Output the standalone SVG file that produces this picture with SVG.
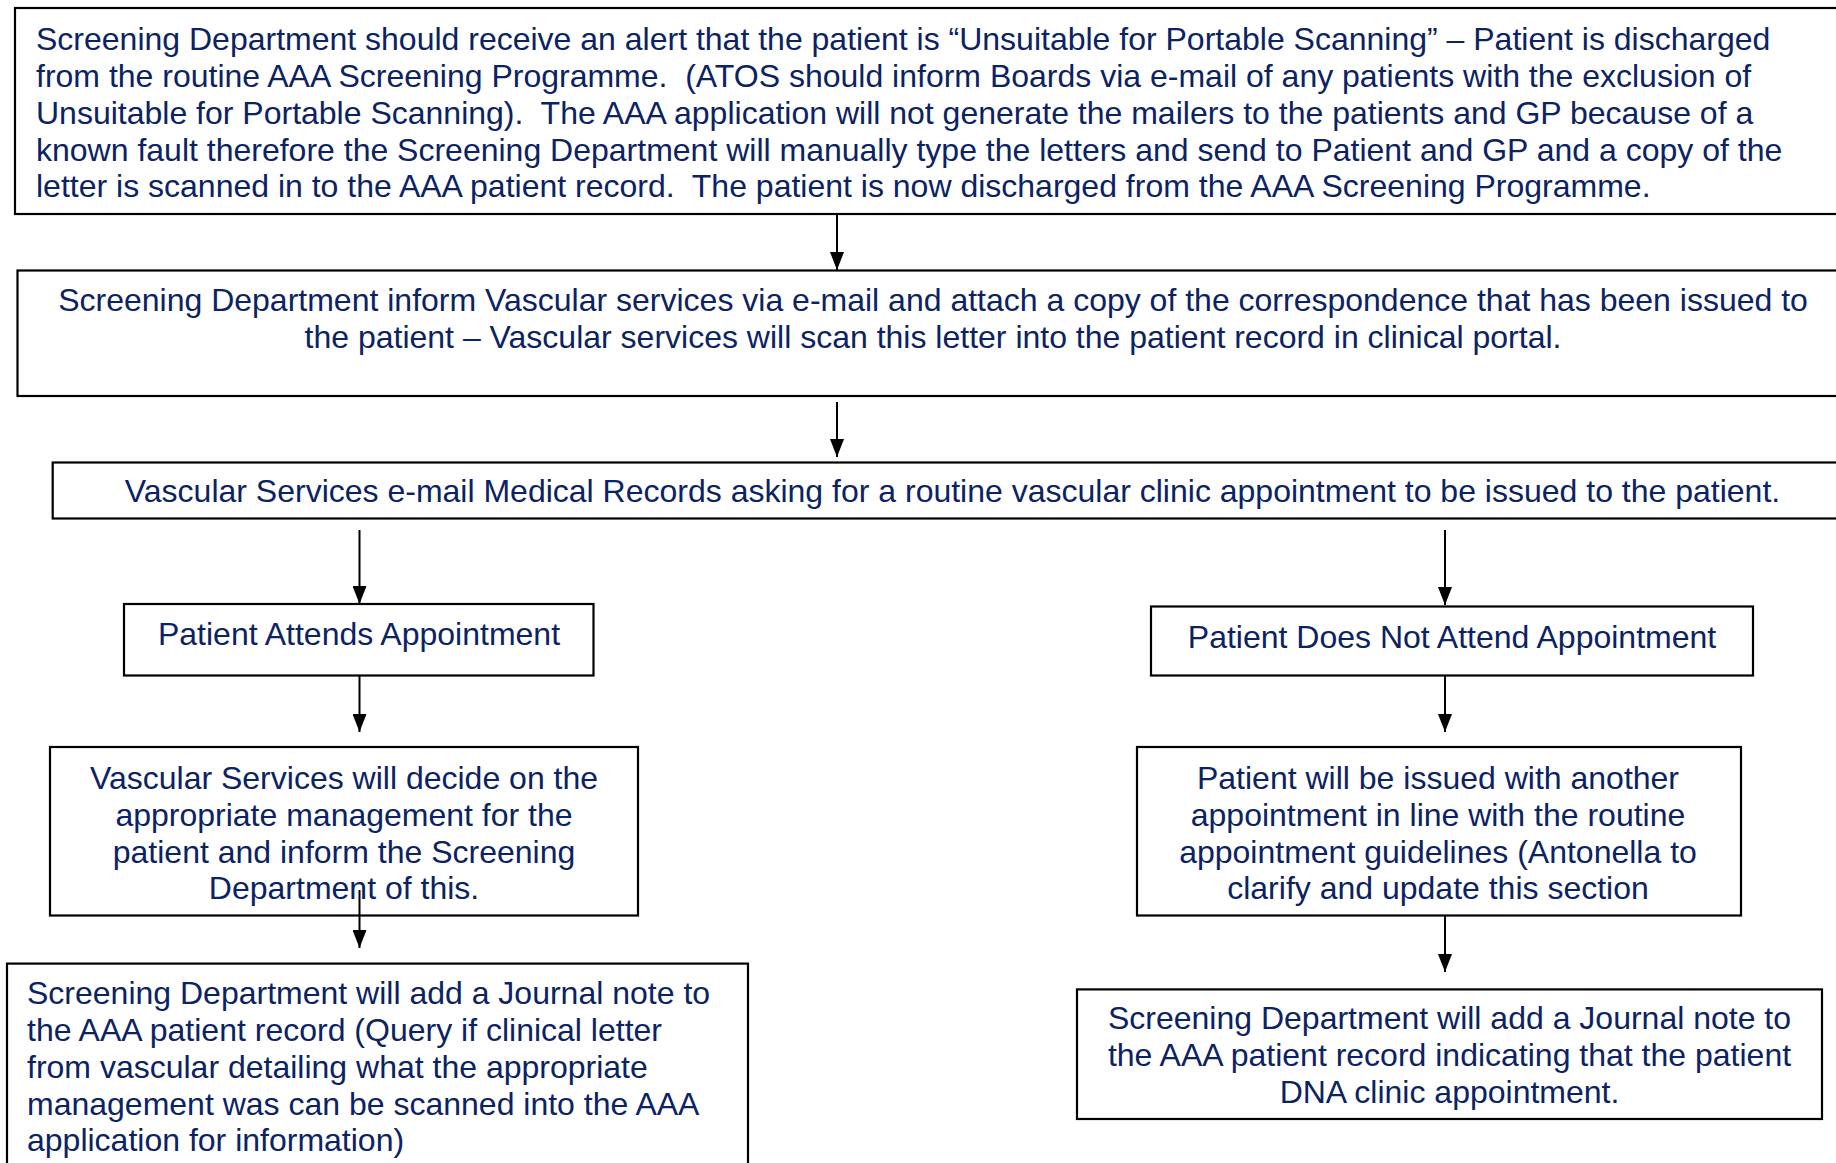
<svg xmlns="http://www.w3.org/2000/svg" width="1836" height="1163" viewBox="0 0 1836 1163">
  <style>
    .box { fill: #ffffff; stroke: #000000; stroke-width: 2.2; }
    .t { font-family: "Liberation Sans", Arial, sans-serif; font-size: 32px; fill: #0b2263; white-space: pre; }
    .c { text-anchor: middle; }
    .edge { stroke: #000000; stroke-width: 2; fill: none; marker-end: url(#arrow); }
  </style>
  <defs>
    <!-- filled triangular head, drawn along +x so orient="auto" turns it with the line -->
    <marker id="arrow" markerUnits="userSpaceOnUse" markerWidth="18" markerHeight="14" viewBox="0 0 18 14" refX="18" refY="7" orient="auto">
      <path d="M0,0 L18,7 L0,14 Z" fill="#000000"/>
    </marker>
  </defs>
  <rect width="1836" height="1163" fill="#ffffff"/>

  <g id="connectors">
    <line class="edge" x1="837" y1="214" x2="837" y2="270"/>
    <line class="edge" x1="837" y1="402" x2="837" y2="457"/>
    <line class="edge" x1="359.5" y1="530" x2="359.5" y2="604"/>
    <line class="edge" x1="1445" y1="530" x2="1445" y2="605"/>
    <line class="edge" x1="359.5" y1="676" x2="359.5" y2="732"/>
    <line class="edge" x1="1445" y1="676" x2="1445" y2="732"/>
    <line class="edge" x1="1445" y1="916" x2="1445" y2="972"/>
  </g>

  <g id="node-alert">
    <rect class="box" x="15" y="8" width="1840" height="206"/>
    <text class="t" xml:space="preserve" x="36" y="50">Screening Department should receive an alert that the patient is “Unsuitable for Portable Scanning” – Patient is discharged</text>
    <text class="t" xml:space="preserve" x="36" y="87">from the routine AAA Screening Programme.  (ATOS should inform Boards via e-mail of any patients with the exclusion of</text>
    <text class="t" xml:space="preserve" x="36" y="124">Unsuitable for Portable Scanning).  The AAA application will not generate the mailers to the patients and GP because of a</text>
    <text class="t" xml:space="preserve" x="36" y="161">known fault therefore the Screening Department will manually type the letters and send to Patient and GP and a copy of the</text>
    <text class="t" xml:space="preserve" x="36" y="197">letter is scanned in to the AAA patient record.  The patient is now discharged from the AAA Screening Programme.</text>
  </g>

  <g id="node-inform-vascular">
    <rect class="box" x="17.5" y="270.5" width="1832" height="125.5"/>
    <text class="t c" x="933" y="311">Screening Department inform Vascular services via e-mail and attach a copy of the correspondence that has been issued to</text>
    <text class="t c" x="933" y="348">the patient – Vascular services will scan this letter into the patient record in clinical portal.</text>
  </g>

  <g id="node-medical-records">
    <rect class="box" x="52.7" y="462.5" width="1800" height="56"/>
    <text class="t c" x="952.5" y="502">Vascular Services e-mail Medical Records asking for a routine vascular clinic appointment to be issued to the patient.</text>
  </g>

  <g id="node-attends">
    <rect class="box" x="124" y="604" width="469.5" height="71.5"/>
    <text class="t c" x="359" y="645">Patient Attends Appointment</text>
  </g>

  <g id="node-dna">
    <rect class="box" x="1151" y="606.5" width="602" height="69"/>
    <text class="t c" x="1452" y="648">Patient Does Not Attend Appointment</text>
  </g>

  <g id="node-management">
    <rect class="box" x="50" y="747" width="588" height="168.5"/>
    <text class="t c" x="344" y="789">Vascular Services will decide on the</text>
    <text class="t c" x="344" y="826">appropriate management for the</text>
    <text class="t c" x="344" y="863">patient and inform the Screening</text>
    <text class="t c" x="344" y="899">Department of this.</text>
  </g>

  <g id="node-reappoint">
    <rect class="box" x="1137" y="747" width="604" height="168.5"/>
    <text class="t c" x="1438" y="789">Patient will be issued with another</text>
    <text class="t c" x="1438" y="826">appointment in line with the routine</text>
    <text class="t c" x="1438" y="863">appointment guidelines (Antonella to</text>
    <text class="t c" x="1438" y="899">clarify and update this section</text>
  </g>

  <!-- this connector starts inside the management box, over its last line -->
  <g id="connectors-overlay">
    <line class="edge" x1="359.5" y1="890" x2="359.5" y2="948"/>
  </g>

  <g id="node-journal-attended">
    <rect class="box" x="7" y="963.6" width="741" height="230"/>
    <text class="t" x="27" y="1004">Screening Department will add a Journal note to</text>
    <text class="t" x="27" y="1041">the AAA patient record (Query if clinical letter</text>
    <text class="t" x="27" y="1078">from vascular detailing what the appropriate</text>
    <text class="t" x="27" y="1115">management was can be scanned into the AAA</text>
    <text class="t" x="27" y="1151">application for information)</text>
  </g>

  <g id="node-journal-dna">
    <rect class="box" x="1077" y="989.4" width="745" height="129.6"/>
    <text class="t c" x="1449.5" y="1029">Screening Department will add a Journal note to</text>
    <text class="t c" x="1449.5" y="1066">the AAA patient record indicating that the patient</text>
    <text class="t c" x="1449.5" y="1103">DNA clinic appointment.</text>
  </g>
</svg>
